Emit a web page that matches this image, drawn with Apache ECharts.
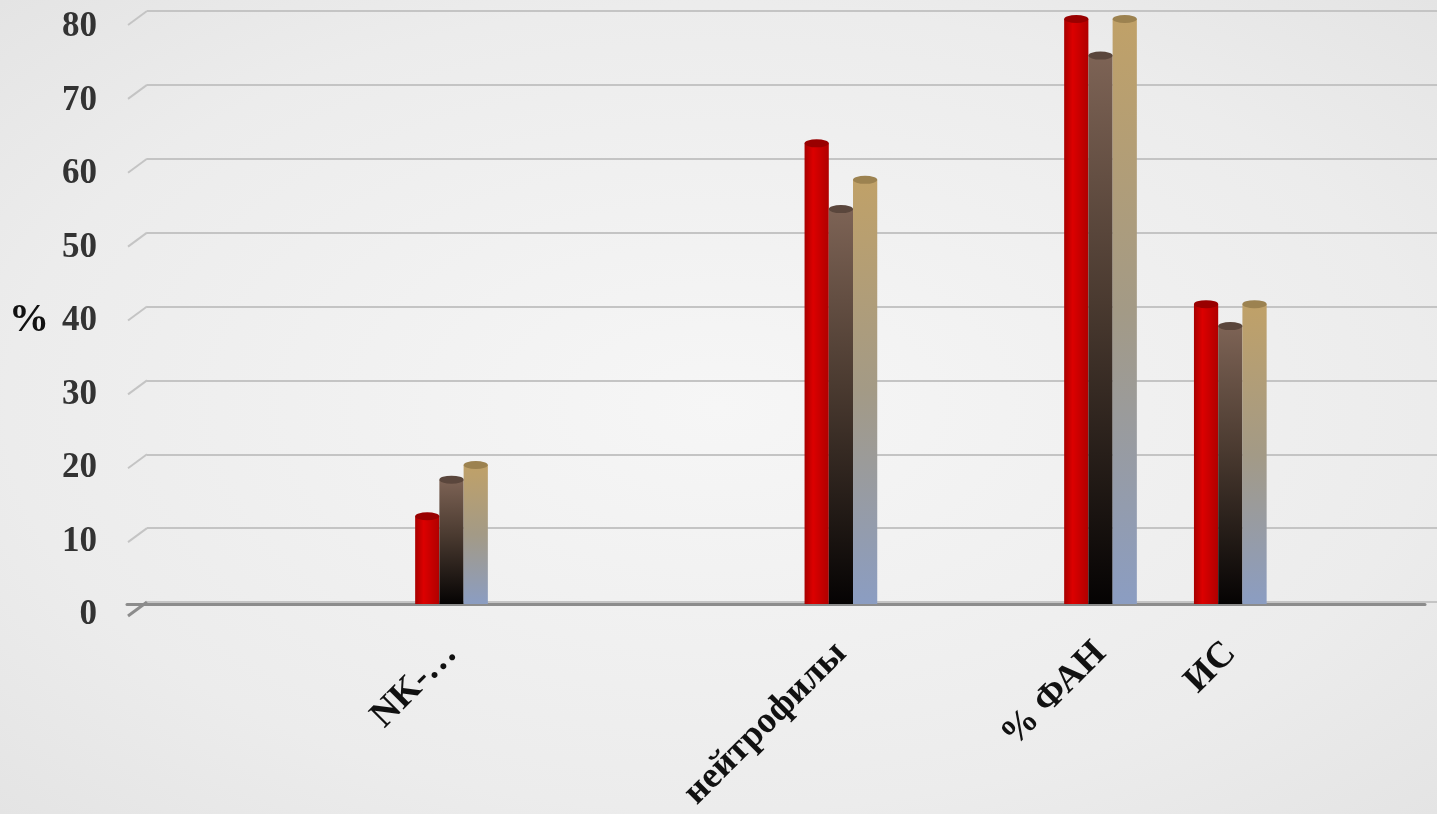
<!DOCTYPE html>
<html>
<head>
	<meta charset="utf-8" />
	<title>chart</title>
	<script src="https://cdn.jsdelivr.net/npm/echarts@6/dist/echarts.min.js"></script>
	<style>
		* { margin: 0; padding: 0; }
		html, body { height: 100%; }
		#main {
			width: 1437px;
			height: 814px;
			background: radial-gradient(ellipse at center, #f6f6f6 0%, #ececec 70%, #e4e4e4 100%);
		}
	</style>
</head>
<body>
	<div id="main"></div>
	<script>
		// categories (empty ones keep the spacing of the original)
		var categories = ['', '', 'NK-…', '', '', 'нейтрофилы', '', '% ФАН', 'ИС', ''];
		var yTicks = [0, 10, 20, 30, 40, 50, 60, 70, 80];
		var seriesRed = [null, null, 12, null, null, 63, null, 80, 41, null];
		var seriesBrown = [null, null, 17, null, null, 54, null, 75, 38, null];
		var seriesTan = [null, null, 19, null, null, 58, null, 80, 41, null];

		var yMin = yTicks[0], yMax = yTicks[yTicks.length - 1], yStep = yTicks[1] - yTicks[0];
		var font = 'Liberation Serif, Times New Roman, serif';

		var fills = [
			new echarts.graphic.LinearGradient(0, 0, 1, 0, [
				{ offset: 0, color: '#a80000' }, { offset: 0.35, color: '#dc0000' }, { offset: 1, color: '#b00000' }
			]),
			new echarts.graphic.LinearGradient(0, 0, 0, 1, [
				{ offset: 0, color: '#7d6355' }, { offset: 0.45, color: '#4a3a30' }, { offset: 1, color: '#050303' }
			]),
			new echarts.graphic.LinearGradient(0, 0, 0, 1, [
				{ offset: 0, color: '#c0a168' }, { offset: 0.5, color: '#a39a86' }, { offset: 1, color: '#8b9dc2' }
			])
		];
		var caps = ['#990000', '#5a463c', '#9c8250'];
		var values = [seriesRed, seriesBrown, seriesTan];
		var names = ['red', 'brown', 'tan'];

		var series = [];
		values.forEach(function (d, i) {
			series.push({
				name: names[i],
				type: 'bar',
				xAxisIndex: 0,
				yAxisIndex: 0,
				barGap: '0%',
				barCategoryGap: '44%',
				itemStyle: { color: fills[i] },
				data: d
			});
		});
		values.forEach(function (d, i) {
			series.push({
				name: names[i] + '-cap',
				type: 'pictorialBar',
				xAxisIndex: 0,
				yAxisIndex: 0,
				barGap: '0%',
				barCategoryGap: '44%',
				symbol: 'circle',
				symbolSize: ['100%', 8],
				symbolPosition: 'end',
				symbolOffset: [0, '-50%'],
				itemStyle: { color: caps[i] },
				z: 3,
				data: d
			});
		});

		var chart = echarts.init(document.getElementById('main'));
		chart.setOption({
			animation: false,
			grid: [
				{ left: 127, right: 12, top: 19, bottom: 207 },  // bars
				{ left: 147, right: 0, top: 11, bottom: 212 },   // back wall lines
				{ left: 127, right: 12, top: 27, bottom: 199 }   // front labels
			],
			xAxis: [
				{
					type: 'category',
					gridIndex: 0,
					data: categories,
					offset: 8,
					axisLine: { lineStyle: { color: '#8c8c8c', width: 3 } },
					axisTick: { show: false },
					axisLabel: {
						interval: 0,
						rotate: 45,
						margin: 36,
						fontFamily: font,
						fontWeight: 'bold',
						fontSize: 37,
						color: '#111'
					}
				},
				{
					type: 'category',
					gridIndex: 1,
					data: categories,
					axisLine: { show: false },
					axisTick: { show: false },
					axisLabel: { show: false }
				},
				{
					type: 'category',
					gridIndex: 2,
					data: categories,
					show: false
				}
			],
			yAxis: [
				{
					type: 'value',
					gridIndex: 0,
					min: yMin,
					max: yMax,
					interval: yStep,
					splitLine: { show: false },
					axisLine: { show: false },
					axisTick: { show: false },
					axisLabel: { show: false }
				},
				{
					type: 'value',
					gridIndex: 1,
					min: yMin,
					max: yMax,
					interval: yStep,
					axisLine: { show: false },
					axisTick: { show: false },
					axisLabel: { show: false },
					splitLine: { lineStyle: { color: '#c4c4c4', width: 2 } }
				},
				{
					type: 'value',
					gridIndex: 2,
					min: yMin,
					max: yMax,
					interval: yStep,
					name: '%',
					nameLocation: 'middle',
					nameRotate: 0,
					nameGap: 78,
					nameTextStyle: { fontFamily: font, fontWeight: 'bold', fontSize: 40, color: '#111' },
					splitLine: { show: false },
					axisLine: { show: false },
					axisTick: { show: false },
					axisLabel: {
						margin: 30,
						fontFamily: font,
						fontWeight: 'bold',
						fontSize: 35,
						color: '#333'
					}
				}
			],
			series: series
		});

		// short slanted joins between the wall lines and the front edge
		var joins = yTicks.map(function (v) {
			var y = chart.convertToPixel({ yAxisIndex: 1 }, v);
			return {
				type: 'line',
				shape: { x1: 128, y1: y + 14, x2: 147, y2: y },
				style: { stroke: v === 0 ? '#8c8c8c' : '#c4c4c4', lineWidth: v === 0 ? 3 : 2 }
			};
		});
		chart.setOption({ graphic: joins });
	</script>
</body>
</html>
